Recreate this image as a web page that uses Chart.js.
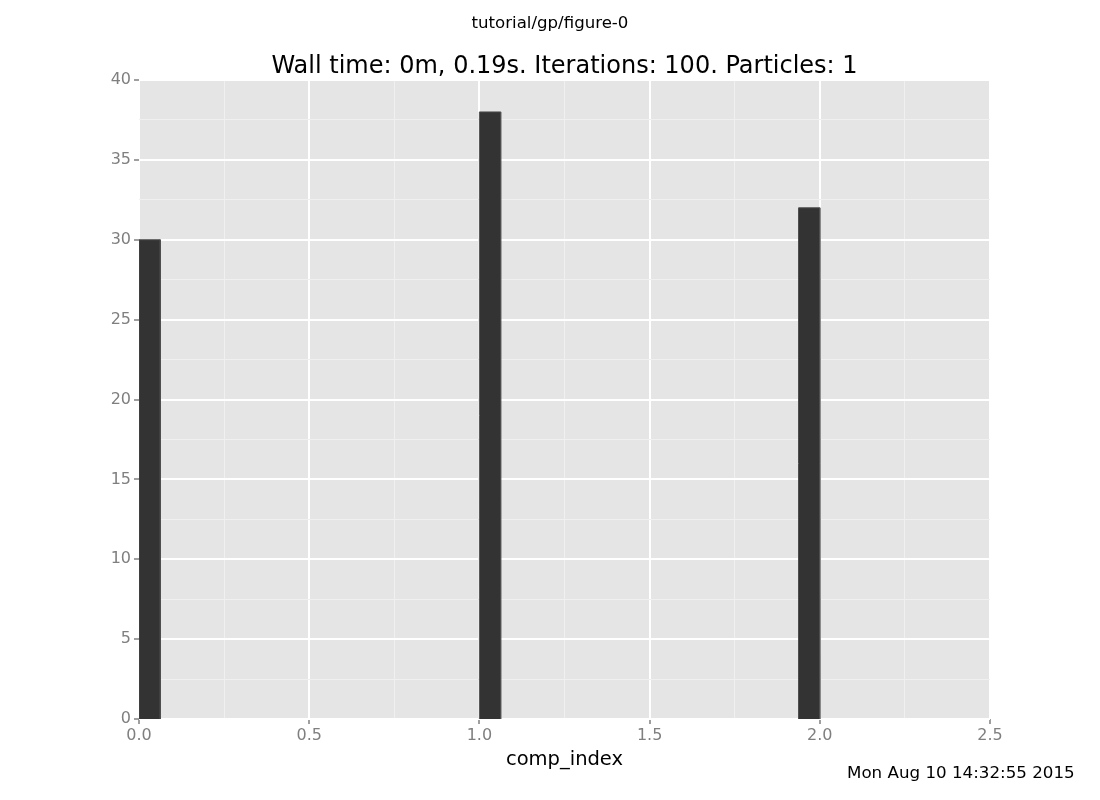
<!DOCTYPE html>
<html>
<head>
<meta charset="utf-8">
<script src="https://cdn.jsdelivr.net/npm/chart.js@4.4.1/dist/chart.umd.min.js"></script>
<style>
    body { margin: 0; background: #fff; font-family: "DejaVu Sans", sans-serif; }
    #wrap { position: relative; width: 1100px; height: 800px; }
    #suptitle { position: absolute; top: 13px; left: 0; width: 1100px; text-align: center; font-size: 16.6px; color: #000; }
    #stamp { position: absolute; top: 762px; left: 847px; font-size: 16.7px; color: #000; white-space: nowrap; }
</style>
</head>
<body>
<div id="wrap">
    <canvas id="chart" width="1100" height="800"></canvas>
    <div id="suptitle">tutorial/gp/figure-0</div>
    <div id="stamp">Mon Aug 10 14:32:55 2015</div>
</div>
<script>
// 히스토그램 데이터 (comp_index 구간별 개수)
const binStarts = [0.0, 1.0, 1.9375];
const binEnds = [0.0625, 1.0625, 2.0];
const counts = [30, 38, 32];

const xTicks = [0, 0.5, 1.0, 1.5, 2.0, 2.5];
const yTicks = [0, 5, 10, 15, 20, 25, 30, 35, 40];

// 막대 하나를 사각형 다각형 데이터셋으로 만든다
const datasets = counts.map((c, i) => ({
    data: [
        { x: binStarts[i], y: 0 },
        { x: binStarts[i], y: c },
        { x: binEnds[i], y: c },
        { x: binEnds[i], y: 0 }
    ],
    showLine: true,
    fill: 'origin',
    backgroundColor: '#333333',
    borderColor: '#4d4d4d',
    borderWidth: 1,
    pointRadius: 0,
    tension: 0
}));

const isMajor = (v, list) => list.some(t => Math.abs(t - v) < 1e-9);

// 배경색 그리기
const panelBg = {
    id: 'panelBg',
    beforeDraw(chart) {
        const a = chart.chartArea;
        const c = chart.ctx;
        c.save();
        c.fillStyle = '#e5e5e5';
        c.fillRect(a.left, a.top, a.right - a.left, a.bottom - a.top);
        c.restore();
    }
};

new Chart(document.getElementById('chart'), {
    type: 'scatter',
    data: { datasets: datasets },
    plugins: [panelBg],
    options: {
        responsive: false,
        animation: false,
        layout: { padding: { top: 55, right: 110, left: 0, bottom: 28 } },
        plugins: {
            legend: { display: false },
            tooltip: { enabled: false },
            title: {
                display: true,
                fullSize: false,
                text: 'Wall time: 0m, 0.19s. Iterations: 100. Particles: 1',
                color: '#000',
                font: { family: 'DejaVu Sans', size: 24, weight: 'normal', lineHeight: 1.0 },
                padding: { top: 0, bottom: 1 }
            }
        },
        scales: {
            x: {
                type: 'linear',
                min: 0,
                max: 2.5,
                border: { display: false },
                afterFit(scale) { scale.height = 53; },
                ticks: {
                    stepSize: 0.25,
                    autoSkip: false,
                    maxRotation: 0,
                    color: '#7f7f7f',
                    font: { family: 'DejaVu Sans', size: 16 },
                    padding: 2,
                    callback: v => isMajor(v, xTicks) ? v.toFixed(1) : ''
                },
                grid: {
                    color: ctx => isMajor(ctx.tick.value, xTicks) ? '#ffffff' : '#f0f0f0',
                    lineWidth: ctx => isMajor(ctx.tick.value, xTicks) ? 2 : 1,
                    tickColor: ctx => isMajor(ctx.tick.value, xTicks) ? '#7f7f7f' : 'rgba(0,0,0,0)',
                    tickLength: 5,
                    tickWidth: 1.5
                },
                title: {
                    display: true,
                    text: 'comp_index',
                    color: '#000',
                    font: { family: 'DejaVu Sans', size: 19.5 },
                    padding: { top: 4, bottom: 0 }
                }
            },
            y: {
                min: 0,
                max: 40,
                border: { display: false },
                afterFit(scale) { scale.width = 139; },
                ticks: {
                    stepSize: 2.5,
                    autoSkip: false,
                    color: '#7f7f7f',
                    font: { family: 'DejaVu Sans', size: 16 },
                    padding: 3,
                    callback: v => isMajor(v, yTicks) ? String(v) : ''
                },
                grid: {
                    color: ctx => isMajor(ctx.tick.value, yTicks) ? '#ffffff' : '#f0f0f0',
                    lineWidth: ctx => isMajor(ctx.tick.value, yTicks) ? 2 : 1,
                    tickColor: ctx => isMajor(ctx.tick.value, yTicks) ? '#7f7f7f' : 'rgba(0,0,0,0)',
                    tickLength: 5,
                    tickWidth: 1.5
                }
            }
        }
    }
});
</script>
</body>
</html>
